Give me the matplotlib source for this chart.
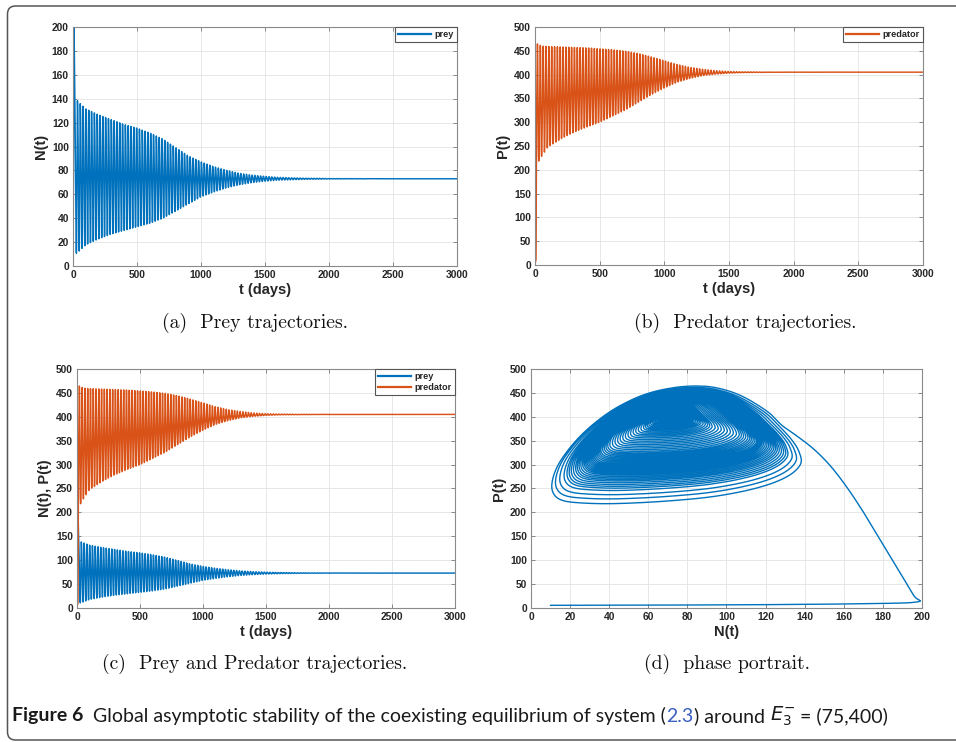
import matplotlib.pyplot as plt
import numpy as np
from matplotlib.patches import FancyBboxPatch


plt.rcParams['font.family'] = ['Liberation Sans', 'DejaVu Sans']

BLUE = '#0072BD'
ORANGE = '#D95319'

# equilibrium read from the flat tails, oscillation period (days)
N_EQ = 73
P_EQ = 405
PERIOD = 22

# start of the run: (10, 5) -> out to N~198 -> up into the first cycle
START_T = [0, 3, 5, 6.5, 8, 8.6, 9.4, 10.2, 11.0, 11.8, 12.6, 13.4, 14.2]
START_N = [10, 60, 120, 170, 197.4, 195.7, 187.2, 178.7, 170.2, 161.6, 153.1, 144.6, 136.1]
START_P = [5.6, 6, 7, 9, 12.6, 26.6, 84.6, 142.6, 199.6, 252.6, 297.6, 332.6, 359.6]

# outermost cycle of the phase portrait, counter-clockwise from the top right
LOOP_N = [128, 121, 108, 96, 85, 72, 58, 44, 32, 22, 14, 10.5, 11, 16, 28, 45,
          70, 95, 117, 132, 139.5, 139, 135]
LOOP_P = [382, 410, 443, 460, 465, 461, 447, 420, 385, 345, 300, 262, 235, 219,
          213, 212, 217, 227, 245, 268, 295, 322, 350]

# envelopes of the oscillation (a) and (b)
ENV_T = [15, 50, 100, 200, 300, 400, 500, 600, 700, 800, 900, 1000, 1100, 1200,
         1300, 1400, 1500, 1600, 1800, 2000, 2500, 3000]
N_HIGH = [140, 136, 131, 126, 122, 118, 115, 111, 106, 99, 92, 87, 83, 80,
          77.5, 76, 75, 74.2, 73.5, 73.2, 73, 73]
N_LOW = [10, 13, 18, 23, 27, 30, 33, 36, 40, 46, 52, 58, 62, 65.5,
         68, 69.8, 71, 71.8, 72.5, 72.8, 73, 73]
P_HIGH = [465, 460, 459, 458, 457, 456, 454, 452, 449, 444, 437, 429, 421, 415,
          411, 408, 406.5, 405.8, 405.3, 405.1, 405, 405]
P_LOW = [212, 228, 248, 265, 279, 290, 300, 313, 326, 342, 358, 372, 384, 392,
         398, 401, 403, 404, 404.6, 404.9, 405, 405]

T_END = 3000


def smooth_path(pts, times, sub=6):
    # open Catmull-Rom through the vertices, time taken linearly per segment
    p = np.vstack([pts[:1], pts, pts[-1:]])
    p0, p1, p2, p3 = (q[:, None, :] for q in (p[:-3], p[1:-2], p[2:-1], p[3:]))
    s = np.linspace(0, 1, sub, endpoint=False)[None, :, None]
    c = 0.5 * (2 * p1 + (p2 - p0) * s
               + (2 * p0 - 5 * p1 + 4 * p2 - p3) * s ** 2
               + (3 * p1 - p0 - 3 * p2 + p3) * s ** 3)
    tt = times[:-1, None] + np.diff(times)[:, None] * s[0, :, 0][None, :]
    return (np.concatenate([tt.ravel(), times[-1:]]),
            np.vstack([c.reshape(-1, pts.shape[1]), pts[-1:]]))


def normalise(v, eq):
    v = np.asarray(v, dtype=float)
    return np.where(v > eq, (v - eq) / (v.max() - eq), (v - eq) / (eq - v.min()))


def scale(u, eq, hi, lo):
    return np.where(u > 0, eq + u * (hi - eq), eq + u * (eq - lo))


k = len(LOOP_N)
t0 = START_T[-1] + PERIOD / k
cycles = int(np.ceil((T_END - t0) / PERIOD)) + 1
t_vert = t0 + np.arange(cycles * k) * PERIOD / k
u_n = np.tile(normalise(LOOP_N, N_EQ), cycles)
u_p = np.tile(normalise(LOOP_P, P_EQ), cycles)
n_vert = scale(u_n, N_EQ, np.interp(t_vert, ENV_T, N_HIGH), np.interp(t_vert, ENV_T, N_LOW))
p_vert = scale(u_p, P_EQ, np.interp(t_vert, ENV_T, P_HIGH), np.interp(t_vert, ENV_T, P_LOW))

verts = np.column_stack([np.concatenate([START_N, n_vert]), np.concatenate([START_P, p_vert])])
times = np.concatenate([START_T, t_vert])
t, path = smooth_path(verts, times)
keep = t <= T_END
t = t[keep]
prey = path[keep, 0]
pred = path[keep, 1]


fig = plt.figure(figsize=(9.56, 7.42), dpi=100)

frame = FancyBboxPatch((0.075, 0.02), 10.0, 7.34, boxstyle='round,pad=0,rounding_size=0.08',
                       transform=fig.dpi_scale_trans, fill=False, edgecolor='#555555',
                       linewidth=1.1, clip_on=False)
fig.patches.append(frame)


def style_axis(ax, xlim, xticks, ylim, yticks, xlabel, ylabel):
    ax.set_xlim(xlim)
    ax.set_ylim(ylim)
    ax.set_xticks(xticks)
    ax.set_yticks(yticks)
    ax.grid(color='#e3e3e3', linewidth=0.6)
    ax.set_axisbelow(True)
    ax.tick_params(direction='in', top=True, right=True, length=3, width=0.6,
                   color='#777777', labelsize=7.4, labelcolor='#262626', pad=3)
    for lab in ax.get_xticklabels() + ax.get_yticklabels():
        lab.set_fontweight('bold')
    for sp in ax.spines.values():
        sp.set_color('#8a8a8a')
        sp.set_linewidth(0.8)
    ax.set_xlabel(xlabel, fontsize=10.5, fontweight='bold', color='#262626', labelpad=2)
    ax.set_ylabel(ylabel, fontsize=10.5, fontweight='bold', color='#262626', labelpad=3)


def small_legend(ax):
    leg = ax.legend(loc='upper right', fontsize=6.6, handlelength=3.6, handletextpad=0.4,
                    borderaxespad=0, borderpad=0.35, labelspacing=0.2, fancybox=False,
                    framealpha=1)
    leg.get_frame().set_edgecolor('#555555')
    leg.get_frame().set_linewidth(0.8)
    for line in leg.get_lines():
        line.set_linewidth(1.6)
    for txt in leg.get_texts():
        txt.set_fontweight('bold')
        txt.set_color('#262626')


T_TICKS = np.arange(0, 3001, 500)
LW = 1.05

# (a)
ax_a = fig.add_axes([0.0764, 0.6415, 0.4017, 0.3221])
ax_a.plot(t, prey, color=BLUE, linewidth=LW, label='prey')
style_axis(ax_a, (0, 3000), T_TICKS, (0, 200), np.arange(0, 201, 20), 't (days)', 'N(t)')
small_legend(ax_a)

# (b)
ax_b = fig.add_axes([0.5596, 0.6429, 0.4059, 0.3208])
ax_b.plot(t, pred, color=ORANGE, linewidth=LW, label='predator')
style_axis(ax_b, (0, 3000), T_TICKS, (0, 500), np.arange(0, 501, 50), 't (days)', 'P(t)')
small_legend(ax_b)

# (c)
ax_c = fig.add_axes([0.0805, 0.1806, 0.3954, 0.3221])
ax_c.plot(t, prey, color=BLUE, linewidth=LW, label='prey')
ax_c.plot(t, pred, color=ORANGE, linewidth=LW, label='predator')
style_axis(ax_c, (0, 3000), T_TICKS, (0, 500), np.arange(0, 501, 50), 't (days)', 'N(t), P(t)')
small_legend(ax_c)

# (d)
ax_d = fig.add_axes([0.5554, 0.1806, 0.409, 0.3221])
ax_d.plot(prey, pred, color=BLUE, linewidth=1.0)
style_axis(ax_d, (0, 200), np.arange(0, 201, 20), (0, 500), np.arange(0, 501, 50), 'N(t)', 'P(t)')

# sub-captions
cap_kw = dict(fontsize=14.2, family='cmr10', ha='center', va='center', color='#111111')
fig.text(255 / 956, 1 - 323 / 742, '(a)  Prey trajectories.', **cap_kw)
fig.text(745 / 956, 1 - 323 / 742, '(b)  Predator trajectories.', **cap_kw)
fig.text(255 / 956, 1 - 664 / 742, '(c)  Prey and Predator trajectories.', **cap_kw)
fig.text(727 / 956, 1 - 664 / 742, '(d)  phase portrait.', **cap_kw)

# figure caption, written piece by piece
pieces = [
    ('Figure 6', dict(fontweight='bold')),
    ('  Global asymptotic stability of the coexisting equilibrium of system (', {}),
    ('2.3', dict(color='#3b5fc0')),
    (') around ', {}),
    (r'$E_3^{-}$', {}),
    (' = (75,400)', {}),
]
renderer = fig.canvas.get_renderer()
x_px = 12
y_fig = 1 - 716 / 742
for s, kw in pieces:
    opts = dict(fontsize=14.0, family='Lato', color='#1a1a1a', va='center', ha='left')
    opts.update(kw)
    txt = fig.text(x_px / 956, y_fig, s, **opts)
    x_px += txt.get_window_extent(renderer).width

fig.savefig('out.png', dpi=100)
